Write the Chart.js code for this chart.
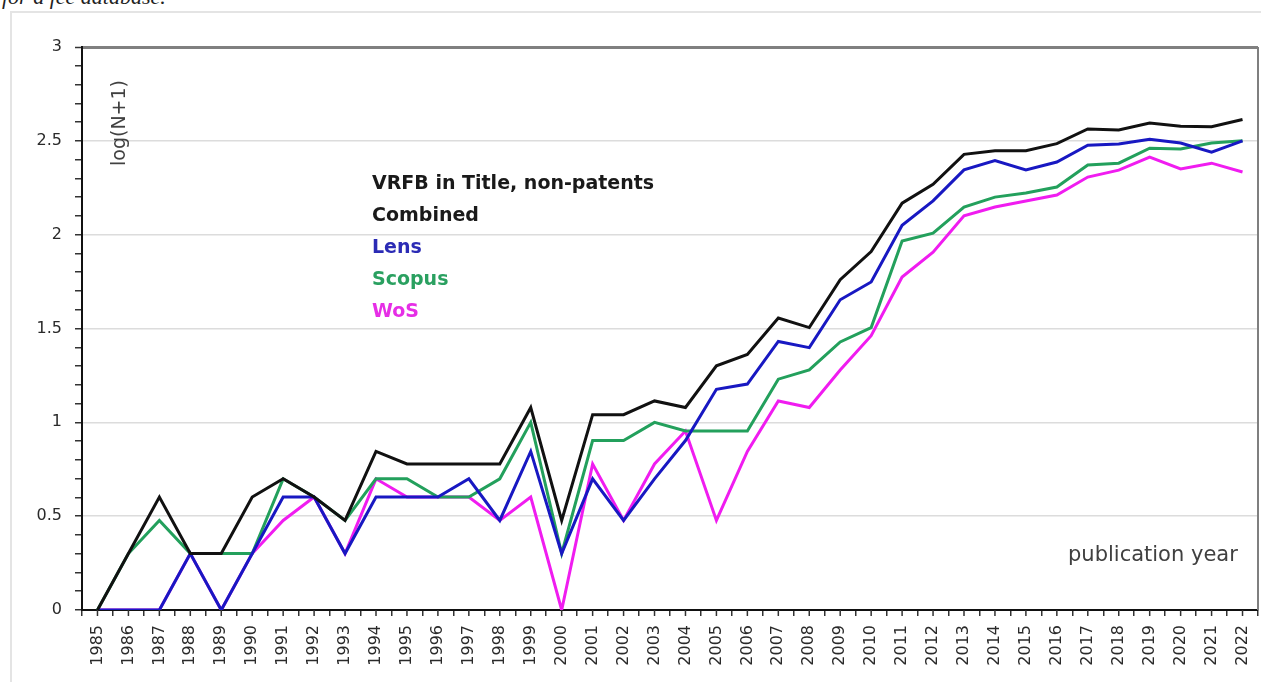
<!DOCTYPE html>
<html>
<head>
<meta charset="utf-8">
<script src="https://cdn.jsdelivr.net/npm/chart.js@4.4.1/dist/chart.umd.min.js"></script>
<style>
    html, body { margin: 0; padding: 0; background: #fff; }
    #wrap { position: relative; width: 1261px; height: 682px; overflow: hidden; }
    #frame { position: absolute; left: 10px; top: 11px; width: 1260px; height: 680px;
             border-left: 2px solid #e4e4e4; border-top: 2px solid #e4e4e4; }
    #caption { position: absolute; left: 2px; top: -16px; font: italic 22px "Liberation Serif", serif;
               color: #222; white-space: nowrap; }
    #chartBox { position: absolute; left: 0; top: 0; width: 1261px; height: 682px; }
    .note { position: absolute; font-family: "DejaVu Sans", sans-serif; white-space: nowrap; }
    #legendText { left: 372px; top: 166px; font-weight: bold; font-size: 19px; line-height: 32px; }
    #xTitle { left: 1068px; top: 542px; font-size: 21px; line-height: 24px; color: #404040; }
    #yTitle { left: 118px; top: 123px; font-size: 19px; color: #404040;
              transform: translate(-50%, -50%) rotate(-90deg); }
</style>
</head>
<body>
<div id="wrap">
    <div id="caption">for a fee database.</div>
    <div id="frame"></div>
    <div id="chartBox"><canvas id="lineChart"></canvas></div>
    <div class="note" id="legendText"></div>
    <div class="note" id="xTitle">publication year</div>
    <div class="note" id="yTitle">log(N+1)</div>
</div>
<script>
// publication years on the category axis
const years = ["1985", "1986", "1987", "1988", "1989", "1990", "1991", "1992", "1993", "1994",
    "1995", "1996", "1997", "1998", "1999", "2000", "2001", "2002", "2003", "2004",
    "2005", "2006", "2007", "2008", "2009", "2010", "2011", "2012", "2013", "2014",
    "2015", "2016", "2017", "2018", "2019", "2020", "2021", "2022"];

// log(N+1) values
const combined = [0, 0.301, 0.602, 0.301, 0.301, 0.602, 0.699, 0.602, 0.477, 0.845,
    0.778, 0.778, 0.778, 0.778, 1.079, 0.477, 1.041, 1.041, 1.114, 1.079,
    1.301, 1.362, 1.556, 1.505, 1.760, 1.910, 2.168, 2.268, 2.428, 2.447,
    2.447, 2.485, 2.563, 2.558, 2.595, 2.578, 2.575, 2.614];
const lens = [0, 0, 0, 0.301, 0, 0.301, 0.602, 0.602, 0.301, 0.602,
    0.602, 0.602, 0.699, 0.477, 0.845, 0.301, 0.699, 0.477, 0.699, 0.903,
    1.176, 1.204, 1.431, 1.398, 1.653, 1.748, 2.050, 2.180, 2.345, 2.395,
    2.345, 2.387, 2.477, 2.483, 2.509, 2.488, 2.440, 2.500];
const scopus = [0, 0.301, 0.477, 0.301, 0.301, 0.301, 0.699, 0.602, 0.477, 0.699,
    0.699, 0.602, 0.602, 0.699, 1.000, 0.301, 0.903, 0.903, 1.000, 0.954,
    0.954, 0.954, 1.230, 1.279, 1.428, 1.505, 1.966, 2.008, 2.147, 2.200,
    2.222, 2.254, 2.371, 2.381, 2.461, 2.456, 2.488, 2.500];
const wos = [0, 0, 0, 0.301, 0, 0.301, 0.477, 0.602, 0.301, 0.699,
    0.602, 0.602, 0.602, 0.477, 0.602, 0, 0.778, 0.477, 0.778, 0.954,
    0.477, 0.845, 1.114, 1.079, 1.279, 1.462, 1.774, 1.907, 2.100, 2.147,
    2.179, 2.211, 2.307, 2.344, 2.413, 2.350, 2.381, 2.334];

const seriesNames = ["Combined", "Lens", "Scopus", "WoS"];
const legendTitle = "VRFB in Title, non-patents";

const lineColors = ["#111111", "#1818c2", "#23a05c", "#f01cf0"];
const textColors = ["#1a1a1a", "#2b2bb5", "#2aa060", "#e62ee6"];

// legend block inside the plot
document.getElementById("legendText").innerHTML =
    `<div style="color:#1a1a1a">${legendTitle}</div>` +
    seriesNames.map((n, i) => `<div style="color:${textColors[i]}">${n}</div>`).join("");

function isHalf(v) {
    const h = Math.round(v * 2);
    return Math.abs(v * 2 - h) < 1e-6;
}

// extra x ticks at the category centres + right frame line
const extraTicks = {
    id: "extraTicks",
    afterDraw(chart) {
        const { ctx, chartArea, scales } = chart;
        ctx.save();
        ctx.strokeStyle = "#333";
        ctx.lineWidth = 1.5;
        years.forEach((y, i) => {
            const px = scales.x.getPixelForValue(i);
            ctx.beginPath();
            ctx.moveTo(px, chartArea.bottom);
            ctx.lineTo(px, chartArea.bottom + 6);
            ctx.stroke();
        });
        ctx.strokeStyle = "#7f7f7f";
        ctx.lineWidth = 2;
        ctx.beginPath();
        ctx.moveTo(chartArea.right, chartArea.top);
        ctx.lineTo(chartArea.right, chartArea.bottom);
        ctx.stroke();
        ctx.restore();
    }
};

const data = [combined, lens, scopus, wos];

new Chart(document.getElementById("lineChart").getContext("2d"), {
    type: "line",
    data: {
        labels: years,
        datasets: data.map((d, i) => ({
            label: seriesNames[i],
            data: d,
            borderColor: lineColors[i],
            borderWidth: 3,
            pointRadius: 0,
            fill: false,
            tension: 0
        }))
    },
    options: {
        responsive: true,
        maintainAspectRatio: false,
        animation: false,
        layout: { padding: { top: 47, right: 3, left: 0, bottom: 0 } },
        plugins: {
            legend: { display: false },
            tooltip: { enabled: false }
        },
        scales: {
            x: {
                offset: true,
                afterFit: s => { s.height = 72; s.paddingLeft = 0; s.paddingRight = 0; },
                grid: {
                    offset: true,
                    drawOnChartArea: false,
                    color: "#333",
                    lineWidth: 1.5,
                    tickLength: 6
                },
                border: { color: "#111", width: 2 },
                ticks: {
                    autoSkip: false,
                    minRotation: 90,
                    maxRotation: 90,
                    padding: 9,
                    color: "#2a2a2a",
                    font: { family: "DejaVu Sans", size: 16 }
                }
            },
            y: {
                min: 0,
                max: 3,
                afterFit: s => { s.width = 82; },
                grid: {
                    color: c => Math.abs(c.tick.value - 3) < 1e-6 ? "#808080" : (isHalf(c.tick.value) ? "#dcdcdc" : "rgba(0,0,0,0)"),
                    lineWidth: c => Math.abs(c.tick.value - 3) < 1e-6 ? 3 : 1.5,
                    tickColor: "#333",
                    tickWidth: 1.5,
                    tickLength: 7
                },
                border: { color: "#111", width: 2 },
                ticks: {
                    stepSize: 0.1,
                    maxTicksLimit: 40,
                    autoSkip: false,
                    padding: 13,
                    color: "#2a2a2a",
                    font: { family: "DejaVu Sans", size: 16 },
                    callback: v => isHalf(v) ? String(Math.round(v * 2) / 2) : ""
                }
            }
        }
    },
    plugins: [extraTicks]
});
</script>
</body>
</html>
